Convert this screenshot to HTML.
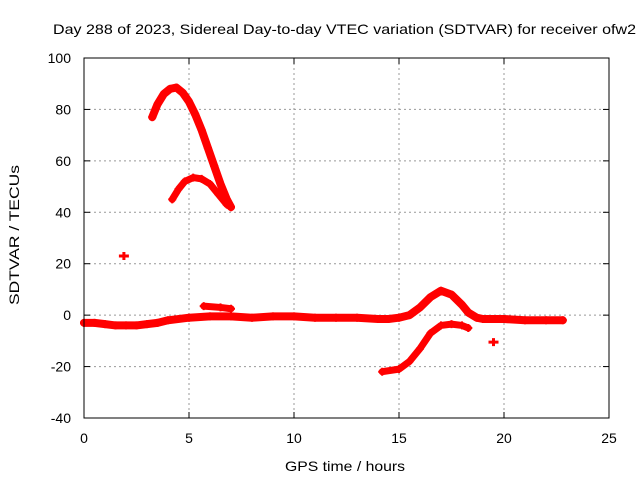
<!DOCTYPE html>
<html><head><meta charset="utf-8"><style>
body{margin:0;background:#fff}
svg{display:block;font-family:"Liberation Sans",sans-serif;font-size:14px}
</style></head><body>
<svg id="c" width="640" height="480">
<text x="53" y="34" textLength="583" lengthAdjust="spacingAndGlyphs">Day 288 of 2023, Sidereal Day-to-day VTEC variation (SDTVAR) for receiver ofw2</text>
<text x="285" y="471" textLength="120" lengthAdjust="spacingAndGlyphs">GPS time / hours</text>
<text transform="translate(19,305) rotate(-90)" textLength="140" lengthAdjust="spacingAndGlyphs">SDTVAR / TECUs</text>
<g id="grid"></g><g id="ticks"></g><g id="data"></g>
<rect x="84" y="58" width="525" height="360" fill="none" stroke="#000"/>
</svg>
<script>
const xTicks=[0,5,10,15,20,25];
const yTicks=[-40,-20,0,20,40,60,80,100];
const arcHigh=[[3.25,77],[3.5,82],[3.8,86],[4.1,88],[4.4,88.5],[4.7,86.5],[5.0,83],[5.3,78],[5.6,72],[5.9,65],[6.2,58],[6.5,51],[6.8,45],[7.0,42]];
const arcLow=[[4.2,45],[4.5,49],[4.8,52],[5.2,53.5],[5.6,53],[6.0,51],[6.4,47],[6.8,43],[7.0,42]];
const baseline=[[0,-3],[0.5,-3],[1,-3.5],[1.5,-4],[2,-4],[2.5,-4],[3,-3.5],[3.5,-3],[4,-2],[5,-1],[6,-0.5],[7,-0.5],[8,-1],[9,-0.5],[10,-0.5],[11,-1],[12,-1],[13,-1],[14,-1.5],[14.5,-1.5],[15,-1],[15.5,0],[16,3],[16.5,7],[17,9.5],[17.5,8],[18,4],[18.3,1],[18.7,-1],[19,-1.5],[20,-1.5],[21,-2],[22,-2],[22.8,-2]];
const bump=[[5.7,3.5],[6.5,3],[7,2.5]];
const dip=[[14.2,-22],[15,-21],[15.5,-18],[16,-13],[16.5,-7],[17,-4],[17.5,-3.5],[18,-4],[18.3,-5]];
const singles=[[1.9,23],[19.5,-10.5]];
const X=v=>84+v*21, Y=v=>418-(v+40)*360/140;
const NS="http://www.w3.org/2000/svg";
const mk=(t,a,p)=>{const e=document.createElementNS(NS,t);for(const k in a)e.setAttribute(k,a[k]);document.getElementById(p).appendChild(e);return e;};
xTicks.forEach(v=>{
 if(v>0&&v<25){const g=mk('line',{x1:X(v),x2:X(v),y1:58,y2:418,stroke:'#999','stroke-dasharray':'2,3'},'grid');
 
 }
 mk('line',{x1:X(v),x2:X(v),y1:418,y2:412,stroke:'#000'},'ticks');
 mk('line',{x1:X(v),x2:X(v),y1:58,y2:64,stroke:'#000'},'ticks');
 const t=mk('text',{x:X(v),y:443,'text-anchor':'middle'},'ticks');t.textContent=v;
 
 
});
yTicks.forEach(v=>{
 if(v>-40&&v<100){const g=mk('line',{x1:84,x2:609,y1:Y(v),y2:Y(v),stroke:'#999','stroke-dasharray':'2,3'},'grid');
 
 }
 mk('line',{x1:84,x2:90,y1:Y(v),y2:Y(v),stroke:'#000'},'ticks');
 mk('line',{x1:609,x2:603,y1:Y(v),y2:Y(v),stroke:'#000'},'ticks');
 const t=mk('text',{x:71,y:Y(v)+5,'text-anchor':'end'},'ticks');t.textContent=v;
 
 
});
function series(pts,w,name){
 const p=mk('polyline',{points:pts.map(d=>X(d[0])+','+Y(d[1])).join(' '),fill:'none',stroke:'#f00','stroke-width':w,'stroke-linejoin':'round','stroke-linecap':'round'},'data');
 
 
 pts.forEach(d=>{mk('path',{d:`M${X(d[0])-4},${Y(d[1])}h8M${X(d[0])},${Y(d[1])-4}v8`,stroke:'#f00','stroke-width':2},'data');});
}
series(arcHigh,8,'series-arc-high');
series(arcLow,7,'series-arc-low');
series(baseline,8,'series-baseline');
series(bump,7,'series-bump');
series(dip,7,'series-dip');
singles.forEach(d=>{const p=mk('path',{d:`M${X(d[0])-5},${Y(d[1])}h10M${X(d[0])},${Y(d[1])-4}v8`,stroke:'#f00','stroke-width':3},'data');
 
 });
</script>
</body></html>
